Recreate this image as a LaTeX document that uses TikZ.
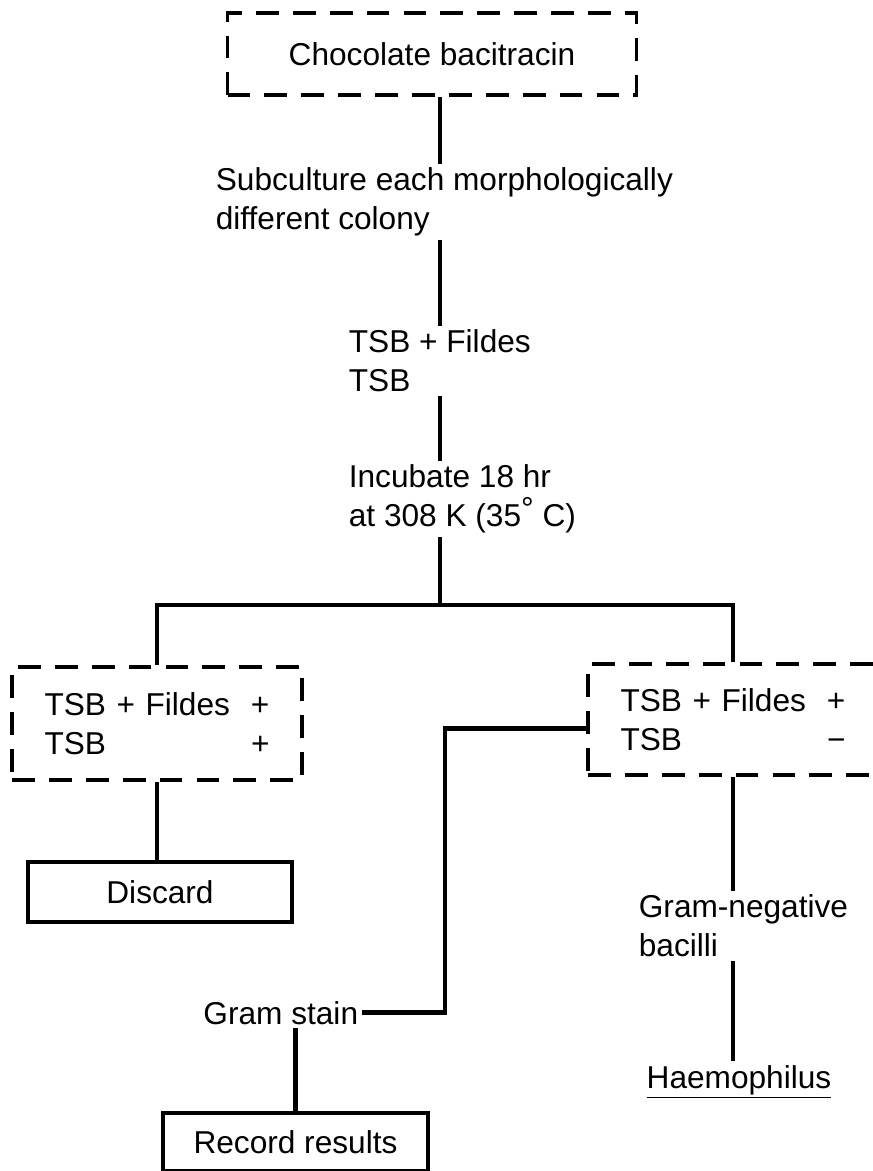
\documentclass[tikz,border=0pt]{standalone}
\usepackage{fontspec}
\setmainfont{Liberation Sans}
\begin{document}
\begin{tikzpicture}[x=0.02cm,y=-0.02cm,
  every node/.style={font=\fontsize{18}{22}\selectfont},
  dashbox/.style={draw,line width=2pt,dash pattern=on 13pt off 8pt,inner sep=0pt},
  solidbox/.style={draw,line width=2.3pt,inner sep=0pt},
  note/.style={align=left,inner sep=2pt},
  link/.style={line width=2.7pt}]
\useasboundingbox (0,0) rectangle (873,1171);
\clip (0,0) rectangle (873,1171);
\fill[white] (0,0) rectangle (873,1171);
\node[dashbox,minimum width=8.18cm,minimum height=1.64cm] (choc) at (432,54) {Chocolate bacitracin};
\node[note,anchor=west] (sub) at (212,202) {Subculture each morphologically\\different colony};
\node[note,anchor=west] (tsbf) at (345,361) {TSB + Fildes\\TSB};
\node[note,anchor=west] (inc) at (345,499) {Incubate 18 hr\\at 308 K (35\raisebox{0.4ex}{°} C)};
\node[dashbox,minimum width=5.8cm,minimum height=2.26cm,text width=4.5cm,align=left] (lpos) at (157,723.5) {TSB + Fildes\hfill+\\TSB\hfill+};
\node[dashbox,minimum width=5.8cm,minimum height=2.22cm,text width=4.5cm,align=left] (rneg) at (733,719.5) {TSB + Fildes\hfill+\\TSB\hfill−};
\node[solidbox,minimum width=5.28cm,minimum height=1.2cm] (disc) at (160,892) {Discard};
\node[note,anchor=base east] (gram) at (362,1024) {Gram stain};
\node[solidbox,minimum width=5.3cm,minimum height=1.16cm] (rec) at (295.5,1142) {Record results};
\node[note,anchor=west] (gneg) at (635,926) {Gram-negative\\bacilli};
\node[note,anchor=base] (haem) at (739,1088) {\underline{Haemophilus}};
% trunk
\coordinate (spine) at (440,0);
\coordinate (bar) at (440,605);
\coordinate (bend) at (445,0);
\draw[link] (choc.south -| spine) -- (sub.north -| spine);
\draw[link] (sub.south -| spine) -- (tsbf.north -| spine);
\draw[link] (tsbf.south -| spine) -- (inc.north -| spine);
\draw[link] (inc.south -| spine) -- (bar);
\draw[link] (lpos.north) |- (bar) -| (rneg.north);
% branches
\draw[link] (lpos.south) -- (disc.north -| lpos.south);
\draw[link] ([yshift=-5pt]rneg.west) -| (gram.east -| bend) -- (gram.east);
\draw[link] (rec.north |- gram.south) -- (rec.north);
\draw[link] (rneg.south) -- (gneg.north -| rneg.south);
\draw[link] (gneg.south -| rneg.south) -- (haem.north -| rneg.south);
\end{tikzpicture}
\end{document}
